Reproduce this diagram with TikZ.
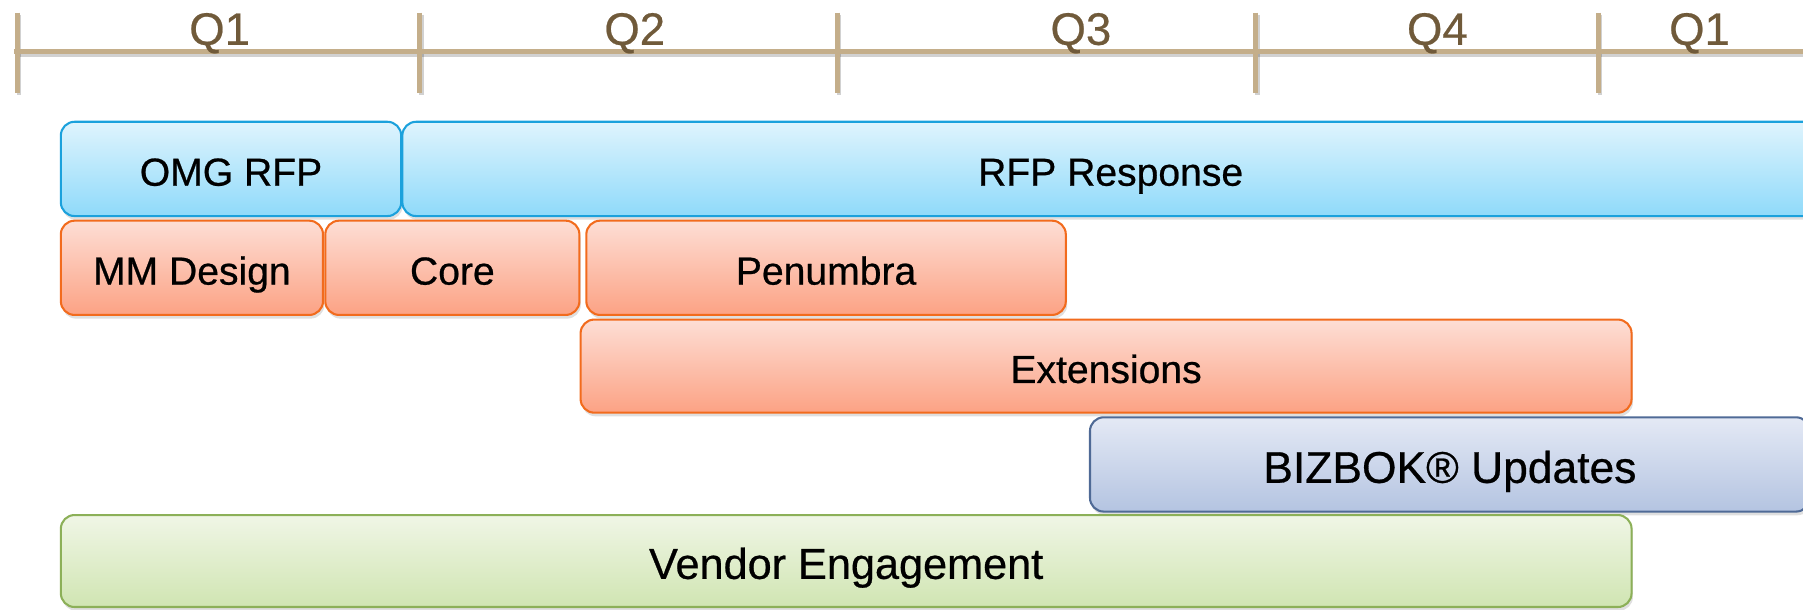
\documentclass[tikz,border=0pt]{standalone}
\usepackage{fontspec}
\setmainfont{Liberation Sans}
\newfontfamily\boxfont[FakeBold=0.6]{Liberation Sans}
\newfontfamily\qfont[FakeBold=0.5]{Liberation Sans}
\usetikzlibrary{shadows}
\definecolor{axisc}{RGB}{196,174,138}
\definecolor{qtext}{RGB}{112,90,58}
\definecolor{blueline}{RGB}{27,161,220}
\definecolor{bluetop}{RGB}{223,244,253}
\definecolor{bluebot}{RGB}{143,218,250}
\definecolor{orline}{RGB}{242,107,29}
\definecolor{ortop}{RGB}{253,222,213}
\definecolor{orbot}{RGB}{252,162,132}
\definecolor{slline}{RGB}{79,106,150}
\definecolor{sltop}{RGB}{228,233,245}
\definecolor{slbot}{RGB}{180,196,225}
\definecolor{grline}{RGB}{140,176,88}
\definecolor{grtop}{RGB}{240,246,230}
\definecolor{grbot}{RGB}{208,229,178}
\begin{document}
\begin{tikzpicture}[x=0.5pt,y=-0.5pt,
  bar/.style={rounded corners=6pt, anchor=north west, inner sep=0pt, line width=0.9pt,
    font=\boxfont\fontsize{17}{20}\selectfont, text depth=0pt, text height=14.6pt,
    drop shadow={opacity=0.25, shadow xshift=0.6pt, shadow yshift=-1.6pt}},
  bluebar/.style={bar, draw=blueline, top color=bluetop, bottom color=bluebot},
  orbar/.style={bar, draw=orline, top color=ortop, bottom color=orbot},
  slbar/.style={bar, draw=slline, top color=sltop, bottom color=slbot, font=\boxfont\fontsize{19.3}{22}\selectfont, text height=16pt},
  grbar/.style={bar, draw=grline, top color=grtop, bottom color=grbot, font=\boxfont\fontsize{18.8}{22}\selectfont, text height=15.5pt},
  axisline/.style={draw=axisc, line width=2.2pt},
  axisshadow/.style={draw=black, opacity=0.18, line width=2pt},
  qlabel/.style={anchor=base, text=qtext, font=\qfont\fontsize{19.8}{22}\selectfont, inner sep=0pt}
]
\clip (0,0) rectangle (1568,530);
% axis
\coordinate (a0) at (12,45);
\coordinate (a1) at (1600,45);
\draw[axisshadow] ([shift={(1,3)}]a0) -- ([shift={(1,3)}]a1);
\foreach \x/\n in {15/t0,365/t1,728/t2,1092/t3,1390/t4}{
  \coordinate (\n top) at (\x,11);
  \coordinate (\n bot) at (\x,81);
  \draw[axisshadow] ([shift={(1.5,2)}]\n top) -- ([shift={(1.5,2)}]\n bot);
}
\draw[axisline] (a0) -- (a1);
\foreach \n in {t0,t1,t2,t3,t4}{
  \draw[axisline] (\n top) -- (\n bot);
}
\node[qlabel] (q1) at (191,39) {Q1};
\node[qlabel] (q2) at (552,39) {Q2};
\node[qlabel] (q3) at (940,39) {Q3};
\node[qlabel] (q4) at (1250,39) {Q4};
\node[qlabel] (q5) at (1478,39) {Q1};
% bars
\node[bluebar, minimum width=148pt, minimum height=41pt] (omg) at (52,105) {OMG RFP};
\node[bluebar, minimum width=616pt, minimum height=41pt] (rfp) at (349,105) {RFP Response};
\node[orbar, minimum width=114pt, minimum height=41pt] (mm) at (52,191) {MM Design};
\node[orbar, minimum width=110.5pt, minimum height=41pt] (core) at (282,191) {Core};
\node[orbar, minimum width=208.5pt, minimum height=41pt] (pen) at (509,191) {Penumbra};
\node[orbar, minimum width=457pt, minimum height=40.5pt] (ext) at (504,277) {Extensions};
\node[slbar, minimum width=313pt, minimum height=41pt] (biz) at (947,362) {BIZBOK® Updates};
\node[grbar, minimum width=683pt, minimum height=40pt] (ven) at (52,447) {Vendor Engagement};
\end{tikzpicture}
\end{document}
